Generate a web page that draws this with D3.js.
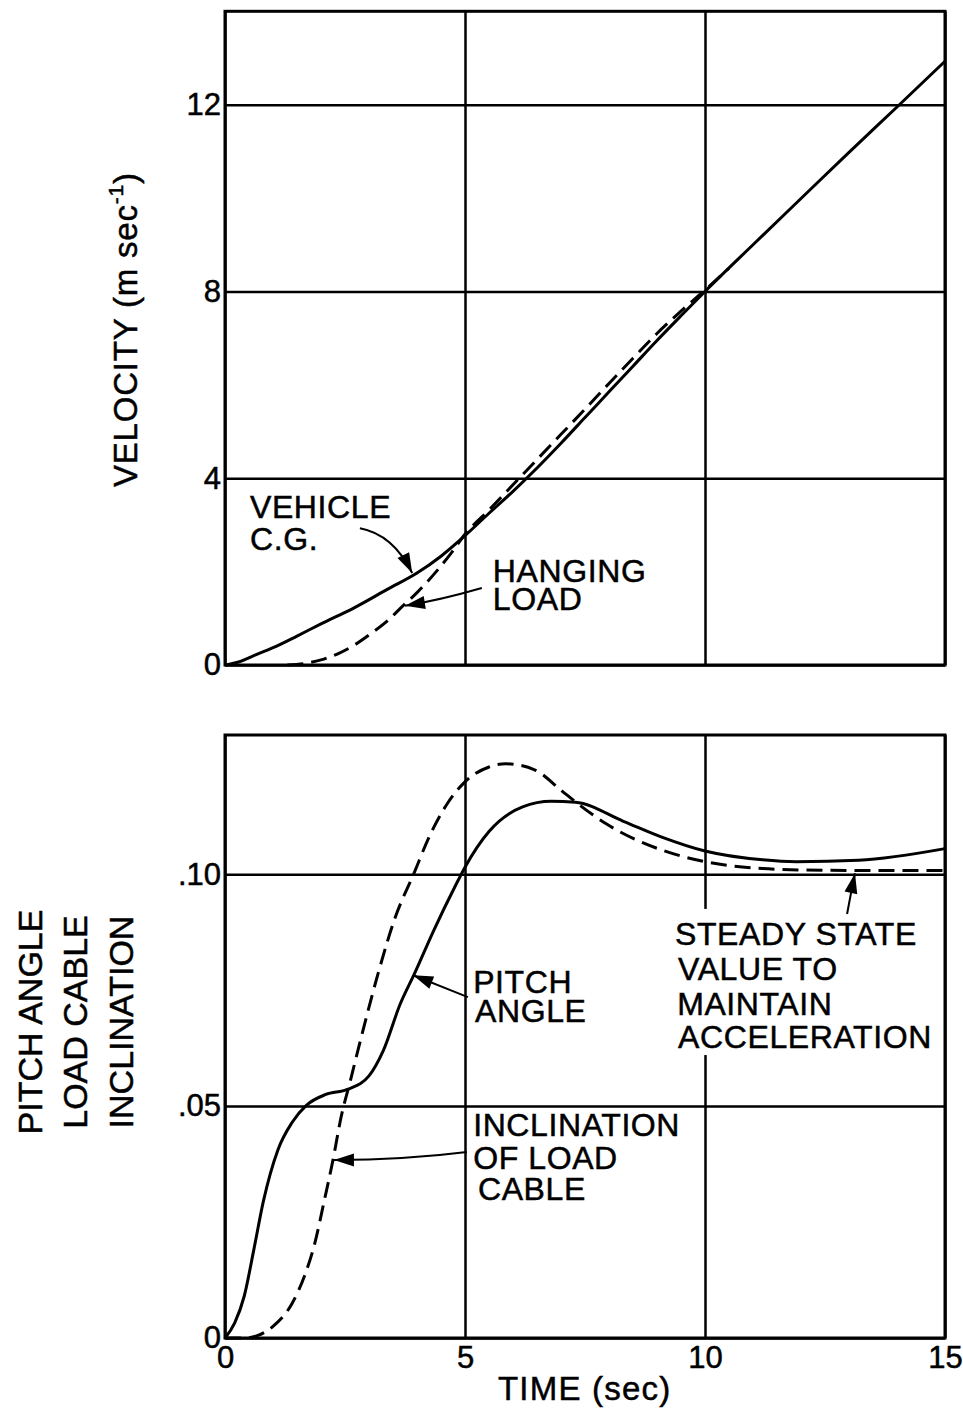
<!DOCTYPE html>
<html>
<head>
<meta charset="utf-8">
<script src="https://cdn.jsdelivr.net/npm/d3@7"></script>
<style>
  body { margin: 0; background: #fff; }
  svg { display: block; background: #fff; }
  text { font-family: "Liberation Sans", Arial, Helvetica, sans-serif; fill: #000; stroke: #000; stroke-width: 0.5px; }
</style>
</head>
<body>
<div id="chart"></div>
<script>
// ---- data ----
const timeTicks = [0, 5, 10, 15]
const velocityTicks = [0, 4, 8, 12]
const angleTicks = [0, 0.05, 0.10]
const angleTickLabels = ["0", ".05", ".10"]

// velocity of vehicle c.g. (m/sec), solid
const vehicleTime = [0, 0.3, 0.6, 1.0, 1.5, 2.0, 2.7, 3.4, 4.0, 4.5, 5.0, 5.5, 6.0, 6.5, 7.0, 7.5, 8.0, 8.5, 9.0, 9.5, 10, 11, 12, 13, 14, 15]
const vehicleVel  = [0, 0.07, 0.2, 0.37, 0.62, 0.88, 1.23, 1.63, 1.97, 2.33, 2.77, 3.25, 3.72, 4.22, 4.75, 5.3, 5.85, 6.4, 6.95, 7.48, 8.0, 9.0, 9.99, 10.98, 11.95, 12.93]

// velocity of hanging load (m/sec), dashed
const loadTime = [1.3, 1.7, 2.0, 2.35, 2.7, 3.05, 3.4, 3.7, 4.0, 4.4, 4.7, 5.0, 5.5, 6.0, 6.5, 7.0, 7.5, 8.0, 8.5, 9.0, 9.5, 10.0, 10.5]
const loadVel  = [0, 0.04, 0.11, 0.24, 0.43, 0.68, 0.96, 1.26, 1.55, 2.0, 2.38, 2.8, 3.32, 3.86, 4.4, 4.94, 5.48, 6.03, 6.57, 7.1, 7.58, 8.03, 8.5]

// pitch angle, solid
const pitchTime  = [0, 0.2, 0.4, 0.6, 0.8, 1.1, 1.4, 1.7, 2.1, 2.55, 3.0, 3.3, 3.65, 3.95, 4.35, 4.8, 5.0, 5.5, 6.2, 6.8, 7.3, 8.3, 9.1, 10.0, 11.2, 11.9, 13.2, 15]
const pitchAngle = [0, 0.0032, 0.009, 0.019, 0.0295, 0.0405, 0.0465, 0.0502, 0.0525, 0.0536, 0.0565, 0.062, 0.072, 0.0786, 0.0879, 0.0975, 0.1015, 0.1092, 0.1145, 0.1157, 0.1155, 0.1114, 0.108, 0.105, 0.1031, 0.1027, 0.103, 0.1055]

// inclination of load cable, dashed
const cableTime  = [0, 0.4, 0.7, 1.0, 1.4, 1.65, 1.87, 2.07, 2.25, 2.42, 2.6, 2.84, 3.19, 3.54, 3.95, 4.23, 4.65, 5.0, 5.5, 5.85, 6.45, 7.0, 7.3, 7.95, 9.1, 10.0, 11.2, 12.0, 13.0, 15.0]
const cableAngle = [0, 0, 0.0006, 0.0025, 0.0075, 0.0132, 0.0204, 0.0297, 0.0384, 0.0477, 0.055, 0.0649, 0.0786, 0.0905, 0.1005, 0.1075, 0.1155, 0.1199, 0.1231, 0.1238, 0.1225, 0.1181, 0.1156, 0.1108, 0.1052, 0.1027, 0.1012, 0.1009, 0.1008, 0.1008]

// ---- layout ----
const W = 963, H = 1410
const left = 225, right = 945
const topBox = { top: 11.3, bottom: 665 }
const botBox = { top: 735, bottom: 1338 }
const FONT = '"Liberation Sans", Arial, Helvetica, sans-serif'

const x = d3.scaleLinear().domain([0, 15]).range([left, right])
const yVel = d3.scaleLinear().domain([0, 14]).range([topBox.bottom, topBox.top])
const yAng = d3.scaleLinear().domain([0, 0.13]).range([botBox.bottom, botBox.top])

const svg = d3.select("#chart").append("svg")
    .attr("width", W).attr("height", H)
    .attr("viewBox", `0 0 ${W} ${H}`)

svg.append("defs").append("marker")
    .attr("id", "head")
    .attr("markerUnits", "userSpaceOnUse")
    .attr("viewBox", "-21 -8 22 16")
    .attr("refX", 0).attr("refY", 0)
    .attr("markerWidth", 22).attr("markerHeight", 16)
    .attr("orient", "auto")
  .append("path")
    .attr("d", "M0,0 L-20,-6.5 L-20,6.5 Z")
    .attr("fill", "#000")

function drawPanel(box, yScale, yTicks, yFormat, withTimeLabels) {
    const g = svg.append("g")

    const gy = g.append("g")
        .attr("transform", `translate(${left},0)`)
        .call(d3.axisLeft(yScale).tickValues(yTicks).tickFormat(yFormat)
            .tickSize(-(right - left)).tickPadding(4))
    gy.attr("font-family", FONT).attr("font-size", 31)
    gy.select(".domain").remove()
    gy.selectAll(".tick line").attr("stroke", "#000").attr("stroke-width", 2.5)
    gy.selectAll(".tick text").attr("fill", "#000")

    const gx = g.append("g")
        .attr("transform", `translate(0,${box.bottom})`)
        .call(d3.axisBottom(x).tickValues(timeTicks)
            .tickFormat(withTimeLabels ? d3.format("d") : "")
            .tickSize(-(box.bottom - box.top)).tickPadding(8))
    gx.attr("font-family", FONT).attr("font-size", 31)
    gx.select(".domain").remove()
    gx.selectAll(".tick line").attr("stroke", "#000").attr("stroke-width", 2.5)
    gx.selectAll(".tick text").attr("fill", "#000")

    g.append("rect")
        .attr("x", left).attr("y", box.top)
        .attr("width", right - left).attr("height", box.bottom - box.top)
        .attr("fill", "none").attr("stroke", "#000").attr("stroke-width", 3)
    return g
}

const topG = drawPanel(topBox, yVel, velocityTicks, d3.format("d"), false)
const botG = drawPanel(botBox, yAng, angleTicks, (d, i) => angleTickLabels[i], true)

function curve(g, ts, vs, yScale, dashed) {
    const line = d3.line()
        .x(d => x(d[0])).y(d => yScale(d[1]))
        .curve(d3.curveMonotoneX)
    g.append("path")
        .datum(d3.zip(ts, vs))
        .attr("d", line)
        .attr("fill", "none")
        .attr("stroke", "#000")
        .attr("stroke-width", 3)
        .attr("stroke-linecap", "butt")
        .attr("stroke-dasharray", dashed ? "16,8" : null)
}

// white patch where the 10 s grid line is broken behind the note
botG.append("rect")
    .attr("x", x(9.3)).attr("y", yAng(0.0925))
    .attr("width", x(14.9) - x(9.3)).attr("height", yAng(0.061) - yAng(0.0925))
    .attr("fill", "#fff")

curve(topG, vehicleTime, vehicleVel, yVel, false)
curve(topG, loadTime, loadVel, yVel, true)
curve(botG, pitchTime, pitchAngle, yAng, false)
curve(botG, cableTime, cableAngle, yAng, true)

// ---- annotations ----
function arrow(g, yScale, p0, p1, p2) {
    const path = d3.path()
    path.moveTo(x(p0[0]), yScale(p0[1]))
    path.quadraticCurveTo(x(p1[0]), yScale(p1[1]), x(p2[0]), yScale(p2[1]))
    g.append("path")
        .attr("d", path.toString())
        .attr("fill", "none").attr("stroke", "#000").attr("stroke-width", 2)
        .attr("marker-end", "url(#head)")
}

// one text element per note, one tspan per line
function label(g, yScale, lines) {
    const t = g.append("text")
        .attr("font-size", 32)
        .attr("letter-spacing", 0.6)
    lines.forEach(([txt, tt, v]) => {
        t.append("tspan").attr("x", x(tt)).attr("y", yScale(v)).text(txt)
    })
}

label(topG, yVel, [["VEHICLE", 0.52, 3.15], ["C.G.", 0.52, 2.46]])
label(topG, yVel, [["HANGING", 5.58, 1.78], ["LOAD", 5.58, 1.18]])
arrow(topG, yVel, [2.81, 2.93], [3.5, 2.8], [3.9, 1.97])
arrow(topG, yVel, [5.35, 1.65], [4.48, 1.39], [3.75, 1.27])

label(botG, yAng, [["PITCH", 5.17, 0.0744], ["ANGLE", 5.21, 0.0681]])
label(botG, yAng, [["STEADY STATE", 9.375, 0.0847], ["VALUE TO", 9.44, 0.0772],
                   ["MAINTAIN", 9.42, 0.0696], ["ACCELERATION", 9.44, 0.0625]])
label(botG, yAng, [["INCLINATION", 5.17, 0.0435], ["OF LOAD", 5.17, 0.0364], ["CABLE", 5.27, 0.0297]])
arrow(botG, yAng, [5.06, 0.0735], [4.48, 0.0759], [3.92, 0.0782])
arrow(botG, yAng, [5.04, 0.0401], [3.75, 0.0384], [2.27, 0.0384])
arrow(botG, yAng, [12.96, 0.0914], [13.04, 0.096], [13.125, 0.1002])

// ---- axis titles ----
const velTitle = svg.append("text")
    .attr("transform", `translate(137,487) rotate(-90)`)
    .attr("font-size", 33)
    .attr("letter-spacing", 0.8)
velTitle.append("tspan").text("VELOCITY (m sec")
velTitle.append("tspan").attr("font-size", 21).attr("dy", -14).text("-1")
velTitle.append("tspan").attr("dy", 14).text(")")

const angleTitles = [["PITCH ANGLE", 42], ["LOAD CABLE", 87], ["INCLINATION", 133]]
angleTitles.forEach(([txt, bx]) => {
    svg.append("text")
        .attr("transform", `translate(${bx},1022) rotate(-90)`)
        .attr("text-anchor", "middle")
        .attr("font-size", 34)
        .text(txt)
})

svg.append("text")
    .attr("x", 498).attr("y", 1400)
    .attr("font-size", 33)
    .attr("letter-spacing", 1.2)
    .text("TIME (sec)")
</script>
</body>
</html>
